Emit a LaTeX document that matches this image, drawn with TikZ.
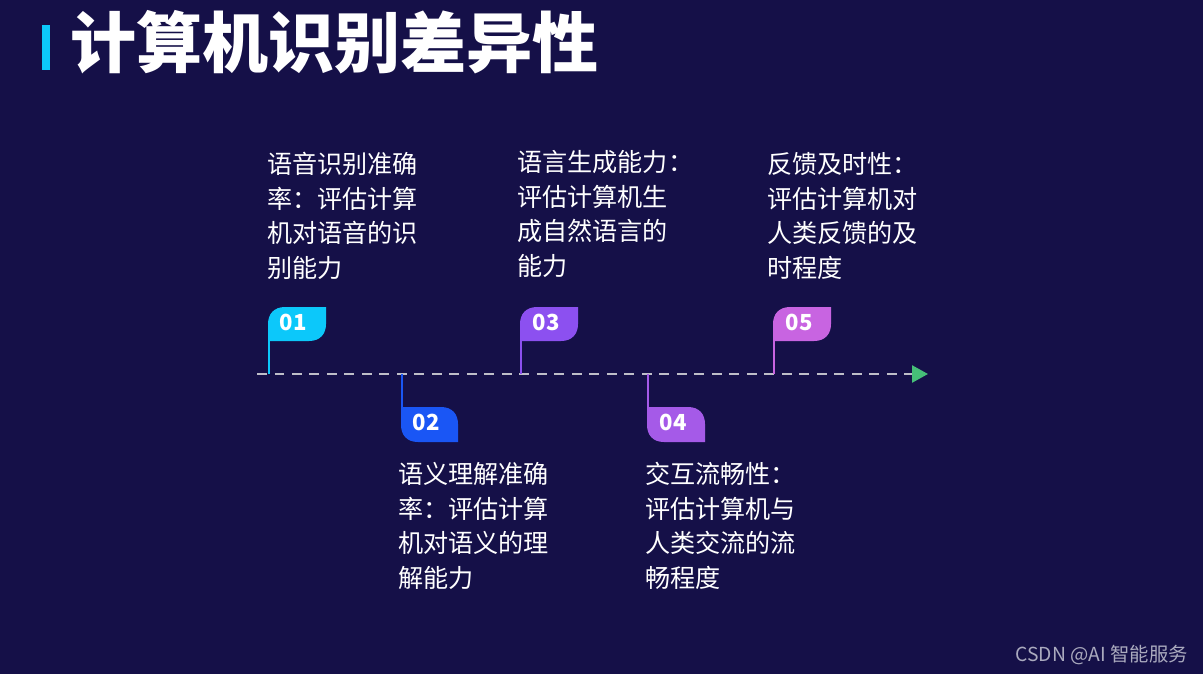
\documentclass[tikz,border=0pt]{standalone}
\usepackage{fontspec}
\setmainfont{Noto Sans CJK SC}
\usetikzlibrary{arrows.meta}
\definecolor{bgnavy}{RGB}{21,16,72}
\definecolor{cone}{RGB}{12,200,250}
\definecolor{ctwo}{RGB}{26,86,245}
\definecolor{cthree}{RGB}{140,80,240}
\definecolor{cfour}{RGB}{165,90,232}
\definecolor{cfive}{RGB}{200,100,225}
\definecolor{axisgray}{RGB}{190,190,200}
\definecolor{arrowgreen}{RGB}{70,190,120}
\definecolor{markgray}{RGB}{170,170,190}
\begin{document}
\begin{tikzpicture}[x=0.02cm,y=-0.02cm,
    num/.style={text=white, font=\fontsize{12.6pt}{14pt}\selectfont\bfseries, inner sep=0},
    desc/.style={text=white, font=\fontsize{14.3pt}{19.7pt}\selectfont, align=left, anchor=north west, inner sep=0},
    pole/.style={line width=0.4mm}]
        \fill[bgnavy] (0,0) rectangle (1203,674);
        \useasboundingbox (0,0) rectangle (1203,674);
        % Title
        \fill[cone] (42,25) rectangle (50,70);
        \node[text=white, font=\fontsize{37.6pt}{40pt}\selectfont\bfseries, anchor=west, inner sep=0] (title) at (70,42) {计算机识别差异性};

        % Time axis
        \coordinate (start) at (257,374);
        \coordinate (end) at (928,374);
        \draw[axisgray, line width=0.5mm, dash pattern=on 2mm off 1.5mm,
              -{Triangle[color=arrowgreen, length=3.2mm, width=3.4mm]}] (start) -- (end);

        % Step 01
        \fill[cone] (268,341) -- (268,324) .. controls (268,314) and (274,307) .. (285,307) -- (326,307) -- (326,324) .. controls (326,334) and (320,341) .. (309,341) -- cycle;
        \coordinate (p1) at (269,374);
        \draw[cone, pole] (p1) -- (269,340);
        \node[num] (n1) at (293,322) {01};
        \node[desc] (d1) at (267,152) {语音识别准确\\率：评估计算\\机对语音的识\\别能力};

        % Step 02
        \fill[ctwo] (401,407) -- (441,407) .. controls (452,407) and (458,414) .. (458,424) -- (458,442) -- (418,442) .. controls (407,442) and (401,435) .. (401,425) -- cycle;
        \coordinate (p2) at (402,374);
        \draw[ctwo, pole] (p2) -- (402,408);
        \node[num] (n2) at (426,422) {02};
        \node[desc] (d2) at (398,462) {语义理解准确\\率：评估计算\\机对语义的理\\解能力};

        % Step 03
        \fill[cthree] (520,341) -- (520,324) .. controls (520,314) and (526,307) .. (537,307) -- (578,307) -- (578,324) .. controls (578,334) and (572,341) .. (561,341) -- cycle;
        \coordinate (p3) at (521,374);
        \draw[cthree, pole] (p3) -- (521,340);
        \node[num] (n3) at (546,322) {03};
        \node[desc] (d3) at (517,150) {语言生成能力：\\评估计算机生\\成自然语言的\\能力};

        % Step 04
        \fill[cfour] (647,407) -- (688,407) .. controls (699,407) and (705,414) .. (705,424) -- (705,442) -- (664,442) .. controls (653,442) and (647,435) .. (647,425) -- cycle;
        \coordinate (p4) at (648,374);
        \draw[cfour, pole] (p4) -- (648,408);
        \node[num] (n4) at (673,422) {04};
        \node[desc] (d4) at (645,462) {交互流畅性：\\评估计算机与\\人类交流的流\\畅程度};

        % Step 05
        \fill[cfive] (773,341) -- (773,324) .. controls (773,314) and (779,307) .. (790,307) -- (831,307) -- (831,324) .. controls (831,334) and (825,341) .. (814,341) -- cycle;
        \coordinate (p5) at (774,374);
        \draw[cfive, pole] (p5) -- (774,340);
        \node[num] (n5) at (799,322) {05};
        \node[desc] (d5) at (767,152) {反馈及时性：\\评估计算机对\\人类反馈的及\\时程度};

        % Watermark
        \node[text=markgray, font=\fontsize{11pt}{12pt}\selectfont, anchor=east, inner sep=0] (mark) at (1188,655) {CSDN @AI 智能服务};
    \end{tikzpicture}
\end{document}
